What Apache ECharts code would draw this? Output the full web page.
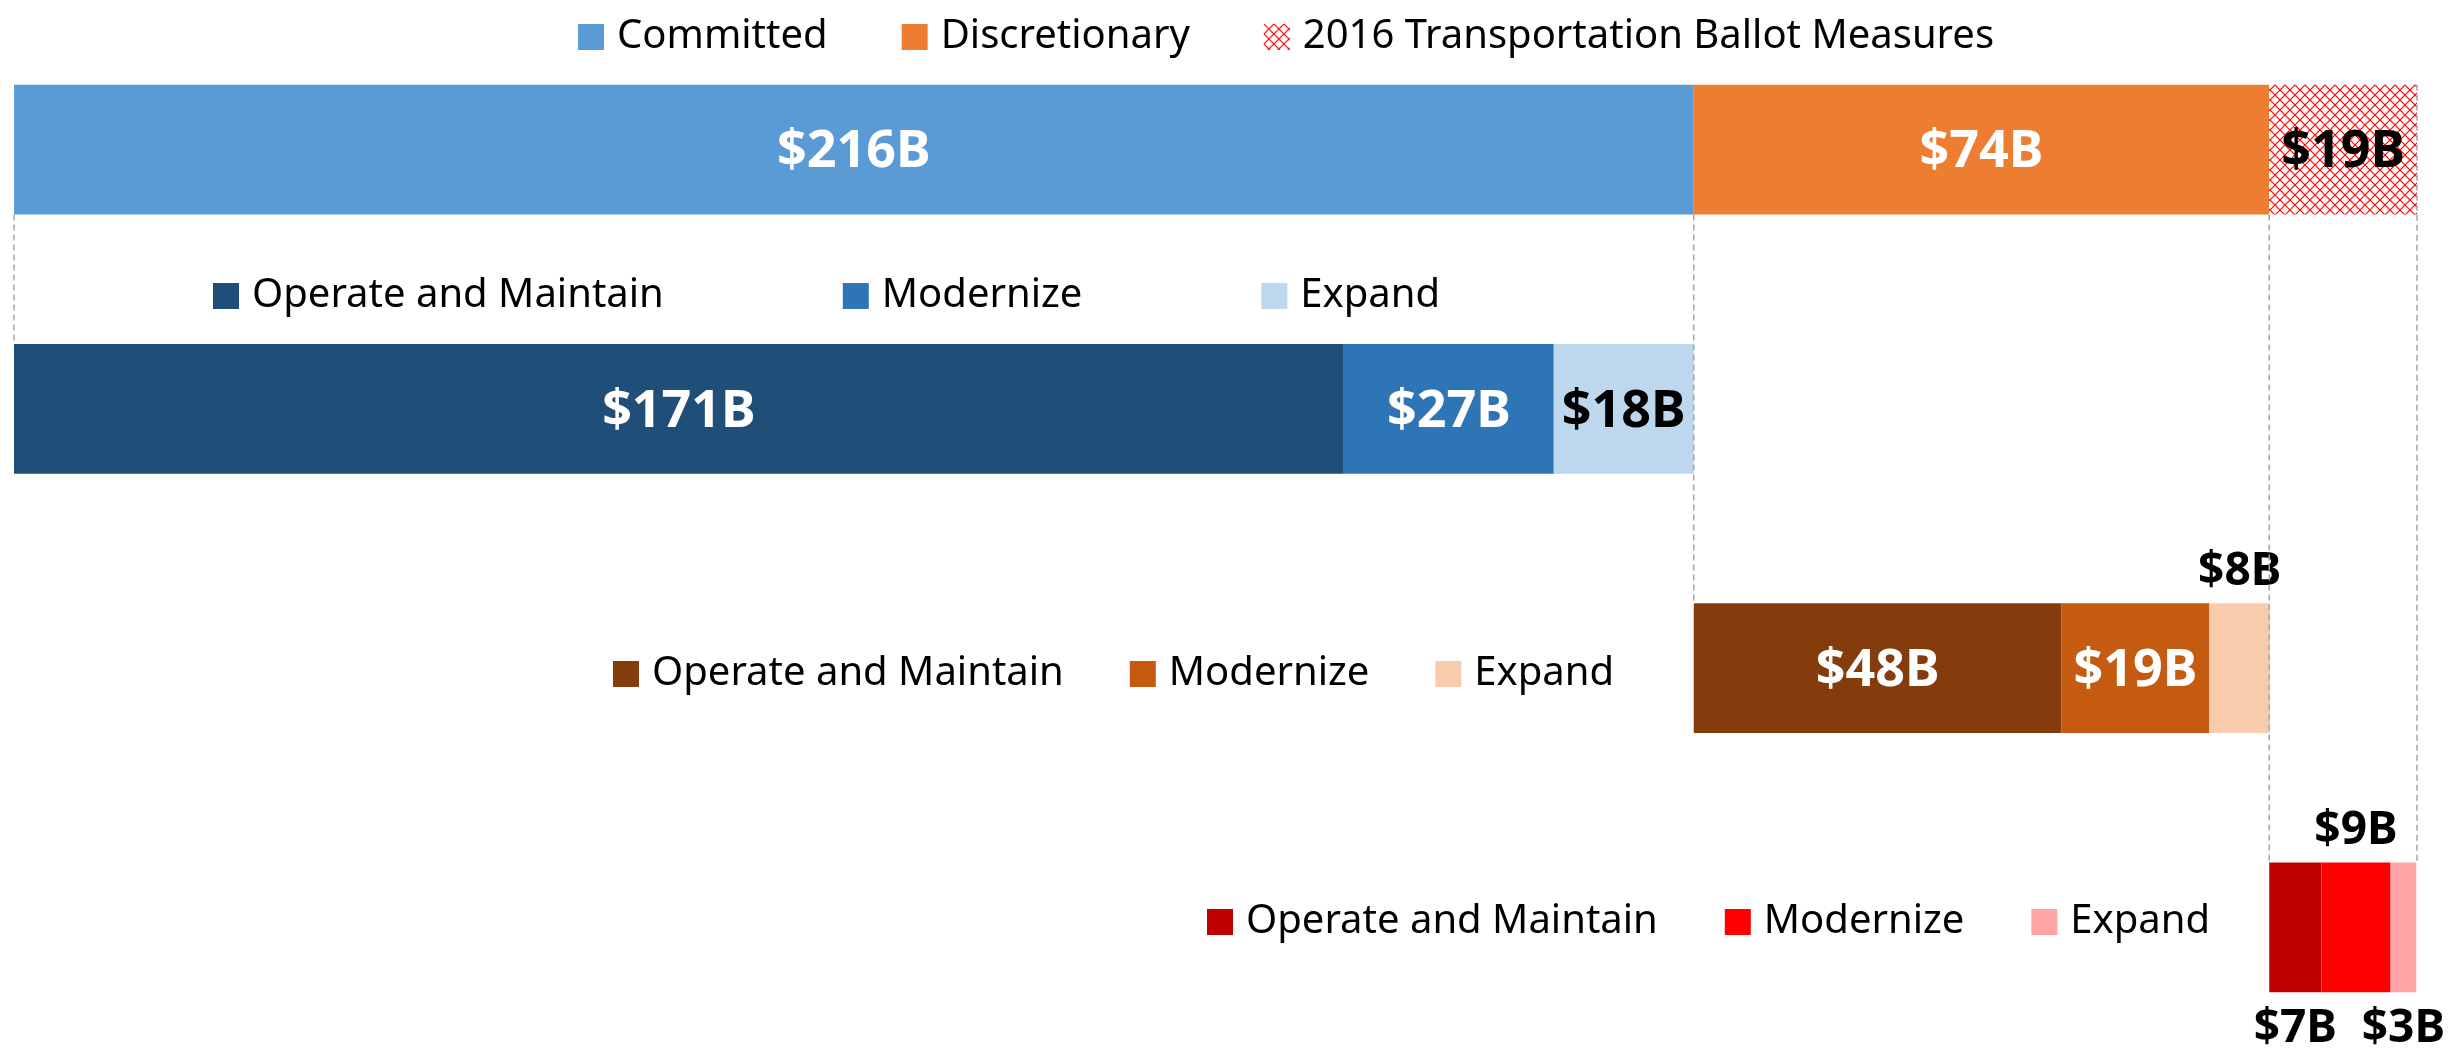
<!DOCTYPE html>
<html>
<head>
<meta charset="utf-8">
<script src="https://cdn.jsdelivr.net/npm/echarts@6/dist/echarts.min.js"></script>
<style>
html,body{margin:0;padding:0;background:#fff;}
#chart{width:2458px;height:1052px;}
</style>
</head>
<body>
<div id="chart"></div>
<script>
// ---- data ----
const rowCategories = ['Total', 'Committed', 'Discretionary', 'Ballot Measures'];
const topCategories = ['Committed', 'Discretionary', '2016 Transportation Ballot Measures'];
const topValues = [216, 74, 19];
const topLabels = ['$216B', '$74B', '$19B'];
const typeCategories = ['Operate and Maintain', 'Modernize', 'Expand'];
const committedValues = [171, 27, 18];
const committedLabels = ['$171B', '$27B', '$18B'];
const discretionaryValues = [47.3, 19.0, 7.8];
const discretionaryLabels = ['$48B', '$19B', '$8B'];
const ballotValues = [6.7, 8.9, 3.3];
const ballotLabels = ['$7B', '$9B', '$3B'];

// ---- styles ----
const FONT = 'Noto Sans';
const topColors = ['#5B9BD5', '#ED7D31', null];
const committedColors = ['#1F4E79', '#2E75B6', '#BDD7EE'];
const discretionaryColors = ['#843C0C', '#C55A11', '#F8CBAD'];
const ballotColors = ['#C00000', '#FF0000', '#FFA5A5'];

// hatch pattern for ballot measures
const pc = document.createElement('canvas');
pc.width = 10; pc.height = 10;
const pctx = pc.getContext('2d');
pctx.fillStyle = '#ffffff';
pctx.fillRect(0, 0, 10, 10);
pctx.strokeStyle = '#FF0000';
pctx.lineWidth = 1.2;
pctx.beginPath();
pctx.moveTo(-1, -1); pctx.lineTo(11, 11);
pctx.moveTo(11, -1); pctx.lineTo(-1, 11);
pctx.stroke();
const hatch = { image: pc, repeat: 'repeat' };

const total = topValues.reduce((a, b) => a + b, 0);
const offsets = ['-', '-', topValues[0], topValues[0] + topValues[1]];

function rowData(rowIdx, v) {
  return rowCategories.map((_, i) => (i === rowIdx ? v : '-'));
}
function inLabel(text, color) {
  return { show: true, position: 'inside', formatter: text, color: color, offset: [0, 3],
           fontFamily: FONT, fontWeight: 'bold', fontSize: 52 };
}
function outLabel(text, pos, dist) {
  return { show: true, position: pos, distance: dist, formatter: text, color: '#000',
           fontFamily: FONT, fontWeight: 'bold', fontSize: 46 };
}

const series = [];
series.push({
  name: '_offset', type: 'bar', stack: 'all', data: offsets, barWidth: '50%',
  itemStyle: { color: 'rgba(0,0,0,0)' }, silent: true, label: { show: false }
});
const topLabelColors = ['#fff', '#fff', '#000'];
topCategories.forEach((name, j) => {
  series.push({
    name: name, type: 'bar', stack: 'all', barWidth: '50%',
    data: rowData(0, topValues[j]),
    itemStyle: { color: j === 2 ? hatch : topColors[j] },
    label: inLabel(topLabels[j], topLabelColors[j])
  });
});
const committedLabelColors = ['#fff', '#fff', '#000'];
typeCategories.forEach((name, j) => {
  series.push({
    name: 'c|' + name, type: 'bar', stack: 'all', barWidth: '50%',
    data: rowData(1, committedValues[j]),
    itemStyle: { color: committedColors[j] },
    label: inLabel(committedLabels[j], committedLabelColors[j])
  });
});
typeCategories.forEach((name, j) => {
  series.push({
    name: 'd|' + name, type: 'bar', stack: 'all', barWidth: '50%',
    data: rowData(2, discretionaryValues[j]),
    itemStyle: { color: discretionaryColors[j] },
    label: j < 2 ? inLabel(discretionaryLabels[j], '#fff') : outLabel(discretionaryLabels[j], 'top', 8)
  });
});
const ballotPos = [['bottom', 14], ['top', 9], ['bottom', 14]];
typeCategories.forEach((name, j) => {
  series.push({
    name: 'b|' + name, type: 'bar', stack: 'all', barWidth: '50%',
    data: rowData(3, ballotValues[j]),
    itemStyle: { color: ballotColors[j] },
    label: outLabel(ballotLabels[j], ballotPos[j][0], ballotPos[j][1])
  });
});

// dashed guide lines: [x, fromRow, toRow] in row units on a helper axis
const guideLines = [
  [0, 0.75, 1.25],
  [topValues[0], 0.75, 2.25],
  [topValues[0] + topValues[1], 0.75, 3.25],
  [total, 0.25, 3.25]
];
series.push({
  type: 'custom', xAxisIndex: 0, yAxisIndex: 1, silent: true, z: 5,
  data: guideLines, encode: { x: 0, y: [1, 2] },
  renderItem: function (params, api) {
    const p0 = api.coord([api.value(0), api.value(1)]);
    const p1 = api.coord([api.value(0), api.value(2)]);
    return { type: 'line', shape: { x1: p0[0], y1: p0[1], x2: p1[0], y2: p1[1] },
             style: { stroke: '#A6A6A6', lineWidth: 1.5, lineDash: [6, 4] } };
  }
});

function makeLegend(prefix, left, top, gap) {
  const names = prefix === null ? topCategories : typeCategories.map(n => prefix + '|' + n);
  return {
    data: names, left: left, top: top, itemGap: gap, itemWidth: 26, itemHeight: 26,
    padding: 0,
    icon: 'rect', selectedMode: false, orient: 'horizontal',
    formatter: n => (n.indexOf('|') >= 0 ? n.split('|')[1] : n),
    textStyle: { fontFamily: FONT, fontSize: 40, color: '#000', padding: [0, 0, 0, 8] }
  };
}

const option = {
  animation: false,
  backgroundColor: '#fff',
  textStyle: { fontFamily: FONT },
  legend: [
    makeLegend(null, 578, 17, 74),
    makeLegend('c', 213, 276, 179),
    makeLegend('d', 613, 654, 66),
    makeLegend('b', 1207, 902, 67)
  ],
  grid: { left: 14, right: 41, top: 20, height: 1037, containLabel: false, outerBoundsMode: 'none' },
  xAxis: { type: 'value', min: 0, max: total, show: false },
  yAxis: [
    { type: 'category', data: rowCategories, inverse: true, show: false },
    { type: 'value', min: 0, max: 4, inverse: true, show: false }
  ],
  series: series
};

const chart = echarts.init(document.getElementById('chart'), null, { renderer: 'canvas' });
chart.setOption(option);
</script>
</body>
</html>
